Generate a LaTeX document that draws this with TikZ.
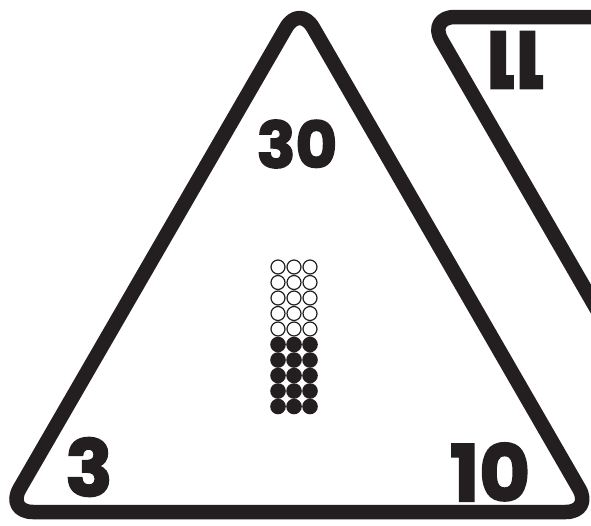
\documentclass[tikz,border=0pt]{standalone}
\usepackage{fontspec}
\newfontfamily\numfont{Poppins}[BoldFeatures={FakeBold=2.5}]
\definecolor{ink}{RGB}{35,31,32}

\begin{document}
\begin{tikzpicture}[x=1pt,y=-1pt,
  side/.style={draw=ink,line width=14.5pt,rounded corners=27pt,line join=round},
  num/.style={text=ink,inner sep=0pt,font=\numfont\bfseries\fontsize{#1}{#1}\selectfont}]
\useasboundingbox (0,0) rectangle (591,525);
\clip (0,0) rectangle (591,525);
% card in front
\coordinate (a) at (299.6,4.3);
\coordinate (b) at (6.1,512);
\coordinate (c) at (592.6,512);
\draw[side] (299,512) -- (c) -- (a) -- (b) -- cycle;
% card behind, upside down
\coordinate (p) at (428,17);
\coordinate (q) at (1015,17);
\coordinate (r) at (721.5,525);
\draw[side] (700,17) -- (q) -- (r) -- (p) -- cycle;
\node[num=64] (n30) at (297,144) {30};
\node[num=78] (n3) at (89,467) {3};
\node[num=78] (n10) at (490,472) {10};
\node[num=78,rotate=180] (n11) at (515,60) {11};
% 30 dots
\foreach \i in {0,...,9} {
 \foreach \j in {0,1,2} {
  \coordinate (d\i\j) at (278+16*\j,267+15.5*\i);
  \ifnum\i<5
   \draw[ink,line width=1.2pt] (d\i\j) circle (7pt);
  \else
   \fill[ink] (d\i\j) circle (7.8pt);
  \fi
 }
}
\end{tikzpicture}
\end{document}
